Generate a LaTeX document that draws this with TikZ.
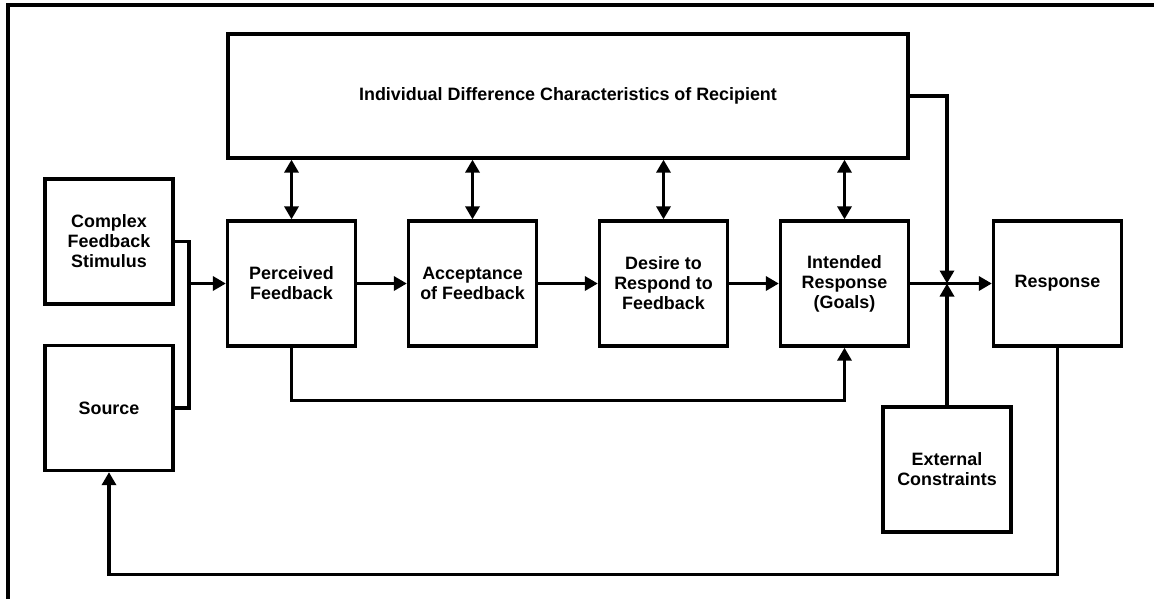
\documentclass[tikz,border=0pt]{standalone}
\usepackage{fontspec}
\setmainfont{Liberation Sans}
\usetikzlibrary{arrows.meta}
\usetikzlibrary{positioning}
\tikzstyle{every picture}=[>={Triangle[length=13pt,width=14pt]}, line width=3.3pt]
\tikzstyle{every node}=[font=\fontsize{17.9}{20}\selectfont\bfseries]
\tikzstyle{component}=[draw, rectangle, align=center, inner sep=0pt,
                       minimum width=128pt, minimum height=125pt]

\begin{document}
\begin{tikzpicture}[x=1pt, y=-1pt]
\useasboundingbox (0,0) rectangle (1154,598);

% outer frame (open to the right and bottom)
\draw (8,620) -- (8,5) -- (1170,5);

\node[component, minimum width=680pt, minimum height=124pt] (Recipient) at (568,96)
  {Individual Difference Characteristics of Recipient};

\node[component] (FeedbackStimulus) at (109,241.5) {Complex\\Feedback\\Stimulus};
\node[component] (Source) at (109,408) {Source};

\node[component] (PerceivedFeedback) at (291.5,283.5) {Perceived\\Feedback};
\node[component] (Acceptance) at (472.5,283.5) {Acceptance\\of Feedback};
\node[component] (Desire) at (663.5,283.5) {Desire to\\Respond to\\Feedback};
\node[component] (IntendedResponse) at (844.5,283.5) {Intended\\Response\\(Goals)};
\node[component] (Response) at (1057.5,283.5) {Response};
\node[component] (ExternalConstraints) at (947,469.5) {External\\Constraints};

\coordinate[left=37pt of PerceivedFeedback.west] (Merge);
\coordinate (Junction) at (IntendedResponse.east -| ExternalConstraints.north);
\coordinate[below=52.5pt of PerceivedFeedback.south] (Bypass);
\coordinate[below=226.5pt of Response.south] (Return);

% inputs
\draw (FeedbackStimulus.east) -| (Merge) |- (Source.east);
\draw[->] (Merge) -- (PerceivedFeedback);

% main chain
\draw[->] (PerceivedFeedback) -- (Acceptance);
\draw[->] (Acceptance) -- (Desire);
\draw[->] (Desire) -- (IntendedResponse);
\draw[->] (IntendedResponse) -- (Response);

\foreach \stage in {PerceivedFeedback, Acceptance, Desire, IntendedResponse}
  \draw[<->] (Recipient.south -| \stage.north) -- (\stage.north);

\draw[->] (Recipient.east) -| (Junction);
\draw[->] (ExternalConstraints.north) -- (Junction);

\draw[->] (PerceivedFeedback.south) -- (Bypass) -| (IntendedResponse.south);
\draw[->] (Response.south) -- (Return) -| (Source.south);

\end{tikzpicture}
\end{document}
